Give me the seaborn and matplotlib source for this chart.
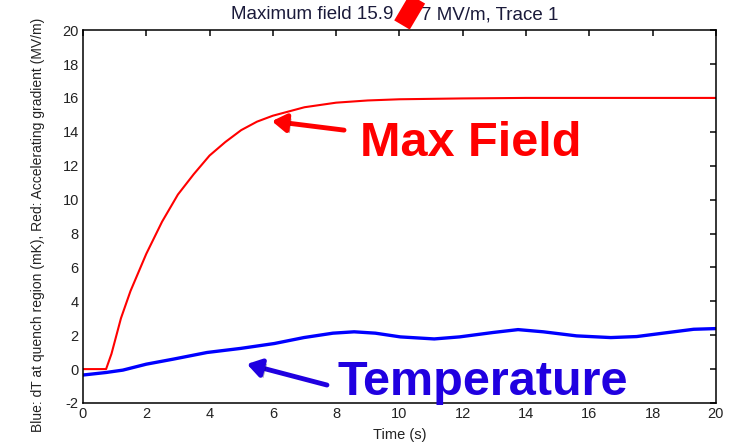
import pandas as pd
import matplotlib
matplotlib.use('Agg')
import matplotlib.pyplot as plt
import matplotlib.patheffects as pe
from matplotlib.lines import Line2D
import seaborn as sns

# --- Data ---
field_time = [0.0, 0.73, 0.9, 1.0, 1.2, 1.5, 2.0, 2.5, 3.0, 3.5, 4.0, 4.5, 5.0, 5.5,
              6.0, 7.0, 8.0, 9.0, 10.0, 12.0, 14.0, 17.0, 20.0]
field_value = [0.0, 0.0, 0.9, 1.6, 3.0, 4.6, 6.8, 8.7, 10.3, 11.5, 12.6, 13.4, 14.1, 14.6,
               14.95, 15.45, 15.72, 15.85, 15.92, 15.97, 16.0, 16.0, 16.0]

temp_time = [0.0, 0.73, 1.26, 2.0, 2.86, 3.92, 4.98, 6.05, 6.98, 7.9, 8.57, 9.24, 10.03,
             11.1, 11.9, 12.96, 13.75, 14.55, 15.6, 16.68, 17.5, 18.5, 19.3, 20.0]
temp_value = [-0.35, -0.2, -0.06, 0.29, 0.59, 0.98, 1.22, 1.51, 1.86, 2.12, 2.2, 2.12, 1.9,
              1.78, 1.9, 2.16, 2.33, 2.2, 1.96, 1.86, 1.92, 2.16, 2.35, 2.39]

x_ticks = list(range(0, 21, 2))
y_ticks = list(range(-2, 21, 2))

# title is split in three: one digit is hidden under the red arrow in the source
title_left = 'Maximum field 15.9'
title_hidden = '6'
title_right = '7 MV/m, Trace 1'
x_label = 'Time (s)'
y_label = 'Blue: dT at quench region (mK), Red: Accelerating gradient (MV/m)'

field_df = pd.DataFrame({'time': field_time, 'value': field_value})
temp_df = pd.DataFrame({'time': temp_time, 'value': temp_value})

# --- Style ---
sns.set_theme(style='white')
plt.rcParams['font.family'] = ['Liberation Sans', 'DejaVu Sans']
plt.rcParams['axes.unicode_minus'] = False
plt.rcParams['xtick.direction'] = 'in'
plt.rcParams['ytick.direction'] = 'in'

fig = plt.figure(figsize=(7.41, 4.43), dpi=100)
ax = fig.add_axes([0.112, 0.0903, 0.854, 0.8417])

sns.lineplot(data=field_df, x='time', y='value', color='#ff0000', linewidth=1.5, ax=ax)
sns.lineplot(data=temp_df, x='time', y='value', color='#0000ff', linewidth=2.4, ax=ax)

ax.set_xlim(0, 20)
ax.set_ylim(-2, 20)
ax.set_xticks(x_ticks)
ax.set_yticks(y_ticks)
ax.tick_params(axis='both', labelsize=10.5, colors='#222222', length=4,
               top=True, right=True, labelcolor='#222222', pad=3)
for s in ax.spines.values():
    s.set_color('black')
    s.set_linewidth(1.1)

ax.set_xlabel(x_label, fontsize=10.5, color='#222222', labelpad=5)
ax.set_ylabel(y_label, fontsize=10, color='#222222')
ax.yaxis.set_label_coords(-0.06, 0.477)

# title pieces
title_kw = dict(fontsize=13.5, color='#1a1a3a', va='baseline')
fig.text(0.5304, 0.957, title_left, ha='right', **title_kw)
fig.text(0.5495, 0.957, title_hidden, ha='center', **title_kw)
fig.text(0.5681, 0.957, title_right, ha='left', **title_kw)

shadow = [pe.SimplePatchShadow(offset=(2, -2), alpha=0.35), pe.Normal()]

# Max Field annotation
ax.annotate('', xy=(5.97, 14.63), xytext=(8.25, 14.1),
            arrowprops=dict(arrowstyle='-|>,head_length=0.7,head_width=0.45',
                            lw=3.5, color='#ff0000', shrinkA=0, shrinkB=0,
                            path_effects=shadow))
ax.text(8.75, 12.6, 'Max Field', fontsize=35, fontweight='bold', color='#ff0000',
        ha='left', va='baseline')

# Temperature annotation
ax.annotate('', xy=(5.18, 0.3), xytext=(7.71, -0.94),
            arrowprops=dict(arrowstyle='-|>,head_length=0.7,head_width=0.45',
                            lw=3.5, color='#2000e0', shrinkA=0, shrinkB=0,
                            path_effects=shadow))
ax.text(8.03, -1.55, 'Temperature', fontsize=35, fontweight='bold', color='#2000e0',
        ha='left', va='baseline', clip_on=False)

# tail of a big red arrow crossing the title
fig.add_artist(Line2D([0.5425, 0.5695], [0.9436, 1.02], transform=fig.transFigure,
                      color='#ff0000', linewidth=13, solid_capstyle='butt', zorder=10))

fig.savefig('out.png', dpi=100)
